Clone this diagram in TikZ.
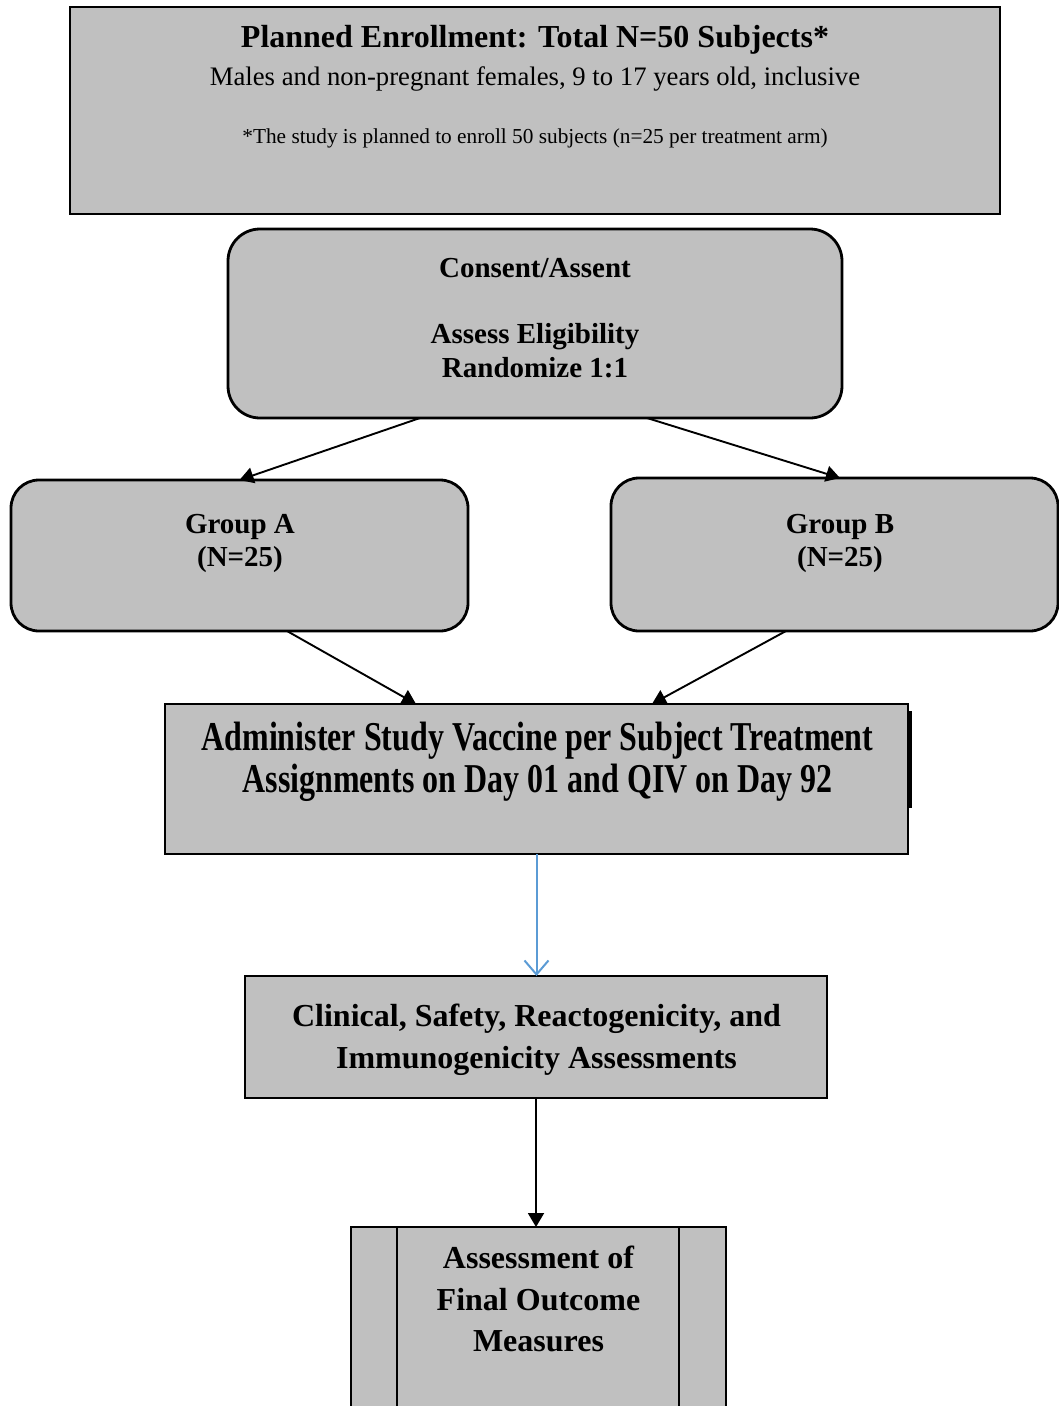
\documentclass[tikz,border=0pt]{standalone}
\usepackage{fontspec}
\usepackage{graphicx}
\setmainfont{Liberation Serif}
\usetikzlibrary{arrows.meta}
\definecolor{boxgray}{HTML}{C0C0C0}
\definecolor{lineblue}{HTML}{5B9BD5}
\begin{document}
\begin{tikzpicture}[x=1pt,y=-1pt,
  box/.style={draw=black, line width=2.8pt, fill=boxgray, anchor=north west, inner sep=0pt, outer sep=0pt},
  rbox/.style={box, rounded corners=28pt},
  txt/.style={anchor=base, inner sep=0pt, outer sep=0pt, text=black},
  bigb/.style={font=\fontsize{32}{38}\selectfont\bfseries},
  midb/.style={font=\fontsize{29}{34}\selectfont\bfseries},
  arr/.style={draw=black, line width=1.9pt, -{Triangle[length=14pt,width=16pt]}},
  bluearr/.style={draw=lineblue, line width=2pt, -{Straight Barb[length=14pt,width=24pt,line width=2pt]}}
]
\useasboundingbox (0,0) rectangle (1059,1406);

% boxes
\node[box, minimum width=930pt, minimum height=207pt] (enr) at (70,7) {};
\node[rbox, rounded corners=32pt, minimum width=614pt, minimum height=189pt] (cons) at (228,229) {};
\node[rbox, minimum width=457pt, minimum height=151pt] (ga) at (11,480) {};
\node[rbox, minimum width=447pt, minimum height=153pt] (gb) at (611,478) {};
\node[box, minimum width=743pt, minimum height=150pt] (adm) at (165,704) {};
\node[box, minimum width=582pt, minimum height=122pt] (clin) at (245,976) {};
\node[box, minimum width=375pt, minimum height=200pt] (fin) at (351,1227) {};
\draw[line width=2.8pt] ([xshift=46pt]fin.north west) -- ([xshift=46pt]fin.south west);
\draw[line width=2.8pt] ([xshift=328pt]fin.north west) -- ([xshift=328pt]fin.south west);
\draw[line width=3pt] ([xshift=2.5pt,yshift=-7pt]adm.north east) -- ([xshift=2.5pt,yshift=-104pt]adm.north east);

% texts
\node[txt, bigb] (t1) at (535,47) {Planned Enrollment: Total N=50 Subjects*};
\node[txt, font=\fontsize{26.7}{30}\selectfont] (t2) at (535,85) {Males and non-pregnant females, 9 to 17 years old, inclusive};
\node[txt, font=\fontsize{21.3}{26}\selectfont] (t3) at (535,143) {*The study is planned to enroll 50 subjects (n=25 per treatment arm)};

\node[txt, midb] (c1) at (535,277) {Consent/Assent};
\node[txt, midb] (c2) at (535,343) {Assess Eligibility};
\node[txt, midb] (c3) at (535,377) {Randomize 1:1};

\node[txt, midb] (a1) at (240,533) {Group A};
\node[txt, midb] (a2) at (240,566) {(N=25)};
\node[txt, midb] (b1) at (840,533) {Group B};
\node[txt, midb] (b2) at (840,566) {(N=25)};

\node[txt, font=\fontsize{41}{46}\selectfont\bfseries] (d1) at (537.5,750) {\scalebox{0.78}[1]{Administer Study Vaccine per Subject Treatment}};
\node[txt, font=\fontsize{41}{46}\selectfont\bfseries] (d2) at (537.5,792) {\scalebox{0.78}[1]{Assignments on Day 01 and QIV on Day 92}};

\node[txt, bigb] (s1) at (536.5,1026) {Clinical, Safety, Reactogenicity, and};
\node[txt, bigb] (s2) at (536.5,1068) {Immunogenicity Assessments};

\node[txt, bigb] (f1) at (538.5,1268) {Assessment of};
\node[txt, bigb] (f2) at (538.5,1310) {Final Outcome};
\node[txt, bigb] (f3) at (538.5,1351) {Measures};

% connectors
\draw[arr] ([xshift=-115pt]cons.south) -- (ga.north);
\draw[arr] ([xshift=112pt]cons.south) -- ([xshift=5.5pt]gb.north);
\draw[arr] ([xshift=47.5pt]ga.south) -- ([xshift=-120.5pt]adm.north);
\draw[arr] ([xshift=-48.5pt]gb.south) -- ([xshift=115.5pt]adm.north);
\draw[bluearr] (adm.south) -- (adm.south |- clin.north);
\draw[arr] (clin.south) -- (fin.north -| clin.south);
\end{tikzpicture}
\end{document}
